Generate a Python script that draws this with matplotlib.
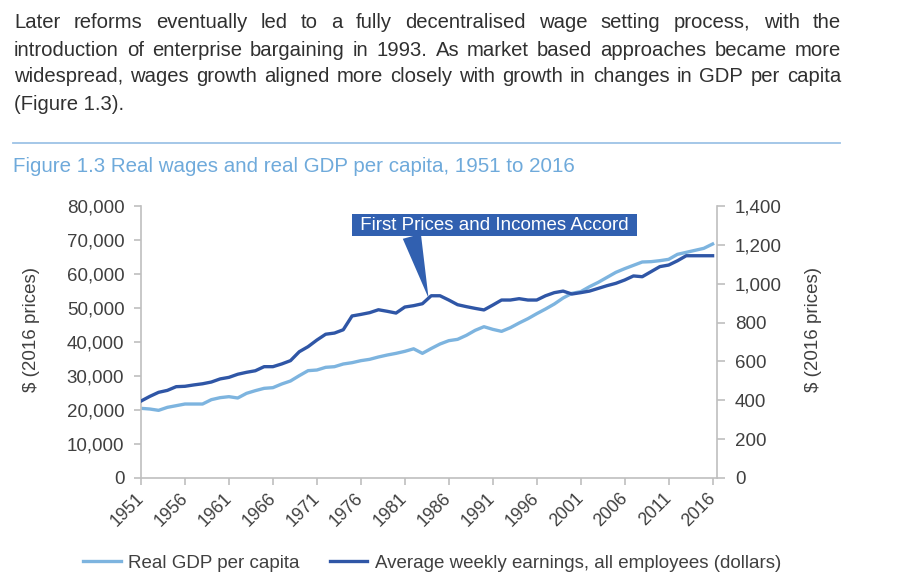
import numpy as np
import matplotlib.pyplot as plt
from matplotlib.lines import Line2D

plt.rcParams['font.family'] = ['Liberation Sans', 'DejaVu Sans']

# ---------------- data ----------------
years = list(range(1951, 2017))

gdp_per_capita = [
    20490, 20290, 19900, 20780, 21270, 21760, 21760, 21760, 23040, 23630,
    23920, 23530, 24900, 25690, 26370, 26570, 27650, 28530, 30100, 31570,
    31760, 32550, 32740, 33530, 33920, 34510, 34900, 35590, 36170, 36660,
    37250, 38000, 36660, 38080, 39410, 40390, 40780, 41960, 43430, 44500,
    43720, 43130, 44210, 45590, 46860, 48330, 49700, 51170, 52940, 54310,
    54800, 56270, 57550, 59020, 60490, 61570, 62550, 63530, 63630, 63920,
    64310, 65780, 66370, 66960, 67550, 68820,
]

weekly_earnings = [
    396, 420, 441, 451, 470, 472, 479, 485, 494, 510,
    518, 534, 544, 552, 573, 573, 587, 604, 650, 676,
    710, 740, 746, 763, 834, 842, 851, 866, 858, 849,
    880, 887, 897, 938, 938, 916, 892, 882, 873, 865,
    890, 916, 916, 923, 916, 916, 938, 954, 962, 947,
    954, 962, 976, 990, 1002, 1019, 1040, 1036, 1062, 1088,
    1096, 1118, 1144, 1144, 1144, 1144,
]

year_ticks = list(range(1951, 2017, 5))
left_ticks = list(range(0, 80001, 10000))
right_ticks = list(range(0, 1401, 200))

series_names = ['Real GDP per capita',
                'Average weekly earnings, all employees (dollars)']
axis_label = '\\$ (2016 prices)'

para_lines = [
    'Later reforms eventually led to a fully decentralised wage setting process, with the',
    'introduction of enterprise bargaining in 1993. As market based approaches became more',
    'widespread, wages growth aligned more closely with growth in changes in GDP per capita',
    '(Figure 1.3).',
]
fig_title = 'Figure 1.3 Real wages and real GDP per capita, 1951 to 2016'
accord_label = ' First Prices and Incomes Accord '
accord_year = 1983.7

# ---------------- style ----------------
W, H = 921, 583
LIGHT = '#7DB4DF'
DARK = '#2F56A6'
BOX = '#3160B0'
TXT = '#404040'
PARA = '#303030'
AXC = '#BFBFBF'
TITLE_C = '#6FAADB'
RULE_C = '#9DC3E6'

fig = plt.figure(figsize=(W / 100, H / 100), dpi=100)
renderer = fig.canvas.get_renderer()


def fy(y):
    # pixel row -> figure fraction
    return 1 - y / H


def write_line(text, y, x0, x1, size, justify=True):
    # draw a line of text, spread to fill x0..x1 when justify is set
    if not justify:
        fig.text(x0 / W, fy(y), text, fontsize=size, color=PARA, va='center')
        return
    words = text.split()
    items = [fig.text(0, fy(y), w, fontsize=size, color=PARA, va='center') for w in words]
    widths = [t.get_window_extent(renderer).width for t in items]
    gap = (x1 - x0 - sum(widths)) / (len(words) - 1)
    x = x0
    for t, w in zip(items, widths):
        t.set_x(x / W)
        x += w + gap


#----------------paragraph----------------#
para_y = [22, 50, 77, 104]
for i, (line, y) in enumerate(zip(para_lines, para_y)):
    write_line(line, y, 14, 841, 14.6, justify=i < len(para_lines) - 1)

fig.add_artist(Line2D([13 / W, 840 / W], [fy(143), fy(143)], color=RULE_C, lw=1.3))
fig.text(13 / W, fy(166), fig_title, fontsize=14.8, color=TITLE_C, va='center')

#------------------chart------------------#
ax = fig.add_axes([141 / W, fy(478), (717 - 141) / W, (478 - 206) / H])
ax2 = ax.twinx()

ax.plot(years, gdp_per_capita, color=LIGHT, lw=2.4, solid_joinstyle='round')
ax2.plot(years, weekly_earnings, color=DARK, lw=2.4, solid_joinstyle='round')

ax.set_xlim(1951, 2016.5)
ax.set_ylim(0, 80000)
ax2.set_ylim(0, 1400)

ax.set_xticks(year_ticks)
ax.set_xticklabels([str(y) for y in year_ticks], rotation=45, ha='right',
                   va='center', rotation_mode='anchor')
ax.set_yticks(left_ticks)
ax.set_yticklabels([f'{v:,}' for v in left_ticks])
ax2.set_yticks(right_ticks)
ax2.set_yticklabels([f'{v:,}' for v in right_ticks])

ax.tick_params(axis='x', length=5, width=1.2, color=AXC, labelsize=12.8,
               labelcolor=TXT, pad=8)
ax.tick_params(axis='y', length=5, width=1.2, color=AXC, labelsize=13.5,
               labelcolor=TXT, pad=7)
ax2.tick_params(axis='y', length=6, width=1.2, color=AXC, labelsize=13.5,
                labelcolor=TXT, pad=7)

for s in ['top', 'right']:
    ax.spines[s].set_visible(False)
for s in ['top', 'left', 'bottom']:
    ax2.spines[s].set_visible(False)
for sp in [ax.spines['left'], ax.spines['bottom'], ax2.spines['right']]:
    sp.set_color(AXC)
    sp.set_linewidth(1.2)

fig.text(31 / W, fy(329), axis_label, rotation=90, fontsize=13.5, color=TXT,
         ha='center', va='center')
fig.text(813 / W, fy(330), axis_label, rotation=90, fontsize=13.5, color=TXT,
         ha='center', va='center')

# callout
tip = np.interp(accord_year, years, weekly_earnings)
ax2.annotate(accord_label, xy=(accord_year, tip), xytext=(1991.2, 1302),
             fontsize=13.5, color='white', ha='center', va='center',
             bbox=dict(boxstyle='square,pad=0.15', fc=BOX, ec='none'),
             arrowprops=dict(arrowstyle='wedge,tail_width=1.0', fc=BOX, ec='none',
                             relpos=(0.2, 0.05), shrinkA=0, shrinkB=0))

handles = [Line2D([], [], color=LIGHT, lw=2.4), Line2D([], [], color=DARK, lw=2.4)]
fig.legend(handles, series_names, loc='center', bbox_to_anchor=(432 / W, fy(563)),
           ncol=2, frameon=False, fontsize=13.5, labelcolor=TXT, handlelength=2.0,
           handletextpad=0.4, columnspacing=1.6)

fig.savefig('out.png', dpi=100)
